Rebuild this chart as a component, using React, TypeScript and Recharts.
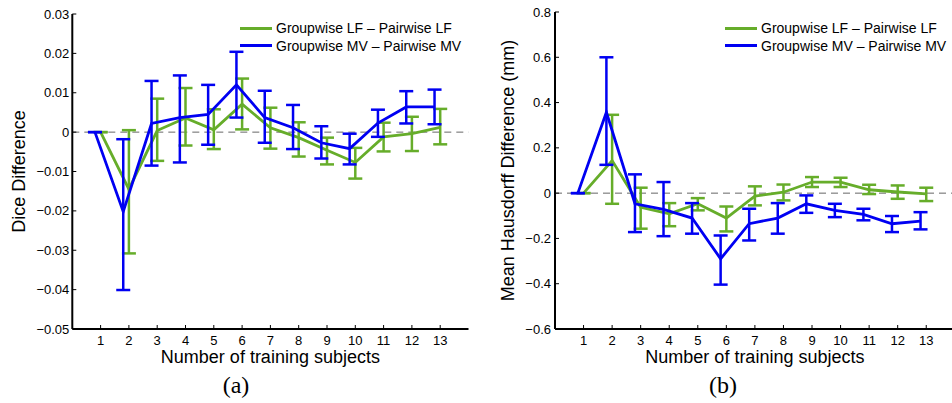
import React from 'react';
import { ComposedChart, Line, XAxis, YAxis, ErrorBar, ReferenceLine, Legend } from 'recharts';

const subjects = [1, 2, 3, 4, 5, 6, 7, 8, 9, 10, 11, 12, 13];
const xTicks = subjects;
const diceTicks = [-0.05, -0.04, -0.03, -0.02, -0.01, 0, 0.01, 0.02, 0.03];
const hdTicks = [-0.6, -0.4, -0.2, 0, 0.2, 0.4, 0.6, 0.8];

const seriesNames = ['Groupwise LF \u2013 Pairwise LF', 'Groupwise MV \u2013 Pairwise MV'];

// Dice difference (a)
const diceLFMean = [0, -0.0145, 0.0004, 0.0036, 0.0006, 0.0071, 0.0011, -0.0014, -0.0046, -0.0077, -0.0012, -0.0004, 0.0012];
const diceLFLow = [0, -0.0308, -0.0073, -0.0034, -0.0043, 0.0007, -0.0042, -0.0062, -0.0082, -0.0118, -0.0049, -0.0048, -0.0031];
const diceLFHigh = [0, 0.0005, 0.0085, 0.0112, 0.0058, 0.0136, 0.0062, 0.0025, -0.0014, -0.004, 0.0024, 0.0039, 0.0059];

const diceMVMean = [0, -0.0202, 0.0022, 0.0037, 0.0045, 0.012, 0.0037, 0.0011, -0.0027, -0.0042, 0.0023, 0.0064, 0.0064];
const diceMVLow = [0, -0.0401, -0.0085, -0.0077, -0.0032, 0.0037, -0.0027, -0.0043, -0.0067, -0.0082, -0.0012, 0.0022, 0.002];
const diceMVHigh = [0, -0.0018, 0.013, 0.0144, 0.012, 0.0204, 0.0105, 0.0069, 0.0015, -0.0004, 0.0057, 0.0104, 0.0108];

// Mean Hausdorff difference (b)
const hdLFMean = [0, 0.144, -0.062, -0.091, -0.047, -0.11, -0.013, 0.004, 0.049, 0.049, 0.015, 0.005, -0.003];
const hdLFLow = [0, -0.047, -0.157, -0.146, -0.076, -0.169, -0.054, -0.032, 0.027, 0.027, -0.004, -0.025, -0.035];
const hdLFHigh = [0, 0.346, 0.024, -0.044, -0.022, -0.059, 0.03, 0.038, 0.071, 0.068, 0.037, 0.034, 0.024];

const hdMVMean = [0, 0.357, -0.047, -0.072, -0.11, -0.29, -0.135, -0.11, -0.047, -0.076, -0.094, -0.135, -0.124];
const hdMVLow = [0, 0.125, -0.172, -0.19, -0.179, -0.404, -0.209, -0.179, -0.087, -0.106, -0.12, -0.172, -0.16];
const hdMVHigh = [0, 0.6, 0.083, 0.049, -0.044, -0.187, -0.069, -0.044, -0.01, -0.047, -0.069, -0.101, -0.084];

const MV_SHIFT = -0.2;
const GREEN = '#66ad2a';
const BLUE = '#0000f2';
const FONT = '"Liberation Sans", Arial, Helvetica, sans-serif';
const SERIF = '"Liberation Serif", "DejaVu Serif", serif';

const build = (mean: number[], low: number[], high: number[], shift: number) =>
  subjects.map((s, i) => ({ x: s + shift, y: mean[i], err: [mean[i] - low[i], high[i] - mean[i]] }));

const fmt = (digits: number) => (v: number) => {
  if (Math.abs(v) < 1e-9) return '0';
  const s = Math.abs(v).toFixed(digits);
  return v < 0 ? '\u2212' + s : s;
};

const LegendBox = ({ payload }: any) => (
  <div style={{ fontFamily: FONT, fontSize: 14, color: '#000', whiteSpace: 'nowrap' }}>
    {(payload || []).map((p: any) => (
      <div key={p.value} style={{ display: 'flex', alignItems: 'center', height: 17.4 }}>
        <span style={{ display: 'inline-block', width: 32, height: 3, background: p.color, marginRight: 4 }} />
        <span>{p.value}</span>
      </div>
    ))}
  </div>
);

type PanelProps = {
  lf: any[];
  mv: any[];
  yDomain: [number, number];
  yTicks: number[];
  yFmt: (v: number) => string;
  yLabel: string;
  yAxisWidth: number;
  top: number;
  right: number;
  yLabelOffset: number;
  yTickMargin: number;
  legendLeft: number;
};

const Panel = (p: PanelProps) => (
  <ComposedChart width={480} height={403} margin={{ top: p.top, right: p.right, bottom: 0, left: 0 }}>
    <XAxis
      xAxisId="b"
      dataKey="x"
      type="number"
      domain={[0, 14]}
      ticks={xTicks}
      interval={0}
      allowDataOverflow
      height={403 - 329}
      tickSize={-4}
      tickMargin={11}
      axisLine={{ stroke: '#000', strokeWidth: 2 }}
      tickLine={{ stroke: '#000', strokeWidth: 1 }}
      tick={{ fill: '#000', fontSize: 13, fontFamily: FONT }}
      label={{
        value: 'Number of training subjects',
        position: 'insideTop',
        offset: 21,
        style: { fontSize: 18, fontFamily: FONT, fill: '#000' },
      }}
    />
    <XAxis
      xAxisId="t"
      orientation="top"
      type="number"
      domain={[0, 14]}
      ticks={xTicks}
      interval={0}
      allowDataOverflow
      height={0}
      tickSize={-4}
      tick={false}
      axisLine={{ stroke: '#000', strokeWidth: 1 }}
      tickLine={{ stroke: '#000', strokeWidth: 1 }}
    />
    <YAxis
      yAxisId="l"
      type="number"
      domain={p.yDomain}
      ticks={p.yTicks}
      interval={0}
      allowDataOverflow
      width={p.yAxisWidth}
      tickSize={-4}
      tickMargin={p.yTickMargin}
      tickFormatter={p.yFmt}
      axisLine={{ stroke: '#000', strokeWidth: 2 }}
      tickLine={{ stroke: '#000', strokeWidth: 1 }}
      tick={{ fill: '#000', fontSize: 13, fontFamily: FONT }}
      label={{
        value: p.yLabel,
        angle: -90,
        position: 'insideLeft',
        offset: p.yLabelOffset,
        style: { textAnchor: 'middle', fontSize: 18, fontFamily: FONT, fill: '#000' },
      }}
    />
    <YAxis
      yAxisId="r"
      orientation="right"
      type="number"
      domain={p.yDomain}
      ticks={p.yTicks}
      interval={0}
      allowDataOverflow
      width={0}
      tickSize={-4}
      tick={false}
      axisLine={{ stroke: '#000', strokeWidth: 1 }}
      tickLine={{ stroke: '#000', strokeWidth: 1 }}
    />
    <ReferenceLine xAxisId="b" yAxisId="l" y={0} stroke="#666" strokeDasharray="7 5" strokeWidth={1} />
    <Legend
      layout="vertical"
      align="center"
      verticalAlign="middle"
      wrapperStyle={{ top: 19.6, left: p.legendLeft, width: 'auto', height: 'auto' }}
      content={<LegendBox />}
    />
    <Line
      xAxisId="b"
      yAxisId="l"
      data={p.lf}
      dataKey="y"
      name={seriesNames[0]}
      stroke={GREEN}
      strokeWidth={2.8}
      dot={false}
      activeDot={false}
      type="linear"
      isAnimationActive={false}
    >
      <ErrorBar dataKey="err" direction="y" width={7} stroke={GREEN} strokeWidth={2.5} isAnimationActive={false} />
    </Line>
    <Line
      xAxisId="b"
      yAxisId="l"
      data={p.mv}
      dataKey="y"
      name={seriesNames[1]}
      stroke={BLUE}
      strokeWidth={2.8}
      dot={false}
      activeDot={false}
      type="linear"
      isAnimationActive={false}
    >
      <ErrorBar dataKey="err" direction="y" width={7} stroke={BLUE} strokeWidth={2.5} isAnimationActive={false} />
    </Line>
  </ComposedChart>
);

export default function App() {
  const diceLF = build(diceLFMean, diceLFLow, diceLFHigh, 0);
  const diceMV = build(diceMVMean, diceMVLow, diceMVHigh, MV_SHIFT);
  const hdLF = build(hdLFMean, hdLFLow, hdLFHigh, 0);
  const hdMV = build(hdMVMean, hdMVLow, hdMVHigh, MV_SHIFT);
  return (
    <div style={{ position: 'absolute', left: 0, top: 0, width: 952, height: 403, overflow: 'hidden', background: '#fff' }}>
      <div style={{ position: 'absolute', left: 0, top: 0 }}>
        <Panel
          lf={diceLF}
          mv={diceMV}
          yDomain={[-0.05, 0.03]}
          yTicks={diceTicks}
          yFmt={fmt(2)}
          yLabel="Dice Difference"
          yAxisWidth={72.3}
          top={14}
          right={11.5}
          yLabelOffset={19}
          yTickMargin={7}
          legendLeft={240}
        />
      </div>
      <div style={{ position: 'absolute', left: 480, top: 0 }}>
        <Panel
          lf={hdLF}
          mv={hdMV}
          yDomain={[-0.6, 0.8]}
          yTicks={hdTicks}
          yFmt={fmt(1)}
          yLabel="Mean Hausdorff Difference (mm)"
          yAxisWidth={75}
          top={12}
          right={5.2}
          yLabelOffset={28}
          yTickMargin={8}
          legendLeft={245}
        />
      </div>
      <svg width={952} height={403} style={{ position: 'absolute', left: 0, top: 0, pointerEvents: 'none' }}>
        <text x={236} y={393} textAnchor="middle" fontFamily={SERIF} fontSize={24} fill="#000">(a)</text>
        <text x={723} y={393} textAnchor="middle" fontFamily={SERIF} fontSize={24} fill="#000">(b)</text>
      </svg>
    </div>
  );
}
